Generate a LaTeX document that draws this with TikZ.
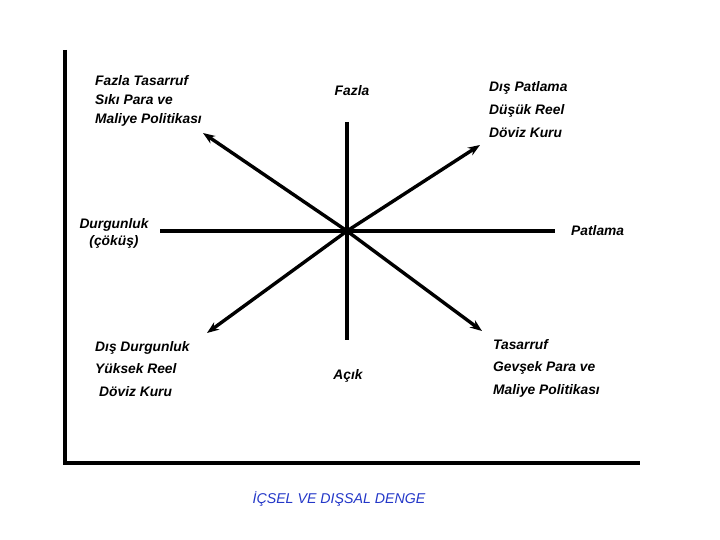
\documentclass[tikz,border=0pt]{standalone}
\usepackage{fontspec}
\setmainfont{Liberation Sans}
\usetikzlibrary{arrows.meta}
\definecolor{titleblue}{RGB}{35,55,200}
\tikzset{
  lbl/.style={font=\bfseries\itshape\fontsize{13.8}{19}\selectfont, align=left, inner sep=0pt},
  heavy/.style={line width=3.4pt},
}

\begin{document}
\begin{tikzpicture}[x=1pt,y=-1pt,>={Stealth[length=12pt,width=9pt]}]
\useasboundingbox (0,0) rectangle (720,540);
% frame
\coordinate (ytop) at (65,50);
\coordinate (o)    at (65,463);
\coordinate (xend) at (640,463);
\draw [heavy] (ytop) -- (o) -- (xend);
% star
\coordinate (c)  at (347,231);
\coordinate (n)  at (347,122);
\coordinate (s)  at (347,340);
\coordinate (w)  at (160,231);
\coordinate (e)  at (555,231);
\coordinate (nw) at (203,133);
\coordinate (ne) at (480,145);
\coordinate (sw) at (207,333);
\coordinate (se) at (482,331);
\draw [heavy] (n) -- (s);
\draw [heavy] (w) -- (e);
\draw [heavy,->] (c) -- (nw);
\draw [heavy,->] (c) -- (ne);
\draw [heavy,->] (c) -- (sw);
\draw [heavy,->] (c) -- (se);
% labels
\node (fazla)   at (352,91)  [lbl] {Fazla};
\node (acik)    at (348,376) [lbl] {Açık};
\node (patlama) at (571,231) [lbl,anchor=west] {Patlama};
\node (durgun)  at (114,233) [lbl,align=center,font=\bfseries\itshape\fontsize{13.8}{17}\selectfont] {Durgunluk\\(çöküş)};
\node (tasfazla) at (95,101) [lbl,anchor=west] {Fazla Tasarruf\\Sıkı Para ve\\Maliye Politikası};
\node (dispat)  at (489,110) [lbl,anchor=west,font=\bfseries\itshape\fontsize{13.8}{23}\selectfont] {Dış Patlama\\Düşük  Reel\\Döviz Kuru};
\node (disdur)  at (95,369)  [lbl,anchor=west,font=\bfseries\itshape\fontsize{13.8}{22.5}\selectfont] {Dış Durgunluk\\Yüksek Reel\\\hspace*{4pt}Döviz Kuru};
\node (tasgev)  at (493,368) [lbl,anchor=west,font=\bfseries\itshape\fontsize{13.8}{22.5}\selectfont] {Tasarruf\\Gevşek Para ve\\Maliye Politikası};
% title
\node (title) at (339,499) [lbl,text=titleblue,font=\itshape\fontsize{14.2}{17}\selectfont] {İÇSEL VE DIŞSAL DENGE};
\end{tikzpicture}
\end{document}
